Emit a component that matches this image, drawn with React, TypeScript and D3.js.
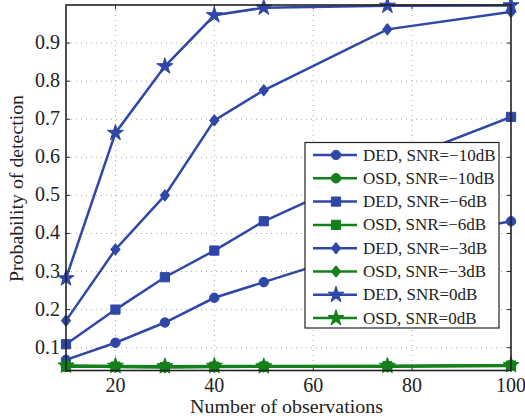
import React from 'react';
import * as d3 from 'd3';

const observations = [10, 20, 30, 40, 50, 75, 100];

const dedM10 = [0.068, 0.113, 0.166, 0.231, 0.272, 0.375, 0.432];
const osdM10 = [0.052, 0.051, 0.050, 0.051, 0.052, 0.052, 0.054];
const dedM6 = [0.109, 0.2, 0.285, 0.355, 0.432, 0.58, 0.706];
const osdM6 = [0.05, 0.05, 0.049, 0.05, 0.05, 0.051, 0.053];
const dedM3 = [0.171, 0.358, 0.5, 0.697, 0.776, 0.936, 0.982];
const osdM3 = [0.051, 0.049, 0.048, 0.049, 0.05, 0.05, 0.052];
const ded0 = [0.282, 0.664, 0.839, 0.973, 0.993, 0.998, 0.999];
const osd0 = [0.053, 0.052, 0.051, 0.052, 0.051, 0.052, 0.054];

const xTicks = [20, 40, 60, 80, 100];
const yTicks = [0.1, 0.2, 0.3, 0.4, 0.5, 0.6, 0.7, 0.8, 0.9];

const BLUE = '#2f47a6';
const GREEN = '#14801a';
const FONT = '"Liberation Serif", "Times New Roman", serif';

type Shape = 'circle' | 'square' | 'diamond' | 'star';

const series: { name: string; values: number[]; color: string; shape: Shape }[] = [
  { name: 'DED, SNR=\u221210dB', values: dedM10, color: BLUE, shape: 'circle' },
  { name: 'OSD, SNR=\u221210dB', values: osdM10, color: GREEN, shape: 'circle' },
  { name: 'DED, SNR=\u22126dB', values: dedM6, color: BLUE, shape: 'square' },
  { name: 'OSD, SNR=\u22126dB', values: osdM6, color: GREEN, shape: 'square' },
  { name: 'DED, SNR=\u22123dB', values: dedM3, color: BLUE, shape: 'diamond' },
  { name: 'OSD, SNR=\u22123dB', values: osdM3, color: GREEN, shape: 'diamond' },
  { name: 'DED, SNR=0dB', values: ded0, color: BLUE, shape: 'star' },
  { name: 'OSD, SNR=0dB', values: osd0, color: GREEN, shape: 'star' },
];

const W = 525;
const H = 419;
const left = 66;
const right = 511;
const top = 5;
const bottom = 370.5;

// matlab-like diamond, a bit wider than d3's
const diamondSym: d3.SymbolType = {
  draw(ctx, size) {
    const r = Math.sqrt(size / 2);
    ctx.moveTo(0, -r * 1.1);
    ctx.lineTo(r * 0.9, 0);
    ctx.lineTo(0, r * 1.1);
    ctx.lineTo(-r * 0.9, 0);
    ctx.closePath();
  },
};

const symbols: Record<Shape, d3.SymbolType> = {
  circle: d3.symbolCircle,
  square: d3.symbolSquare,
  diamond: diamondSym,
  star: d3.symbolStar,
};
const sizes: Record<Shape, number> = { circle: 70, square: 85, diamond: 55, star: 80 };

const Marker = ({ x, y, shape, color }: { x: number; y: number; shape: Shape; color: string }) => {
  const path = d3.symbol().type(symbols[shape]).size(sizes[shape])();
  return <path d={path || ''} transform={`translate(${x},${y})`} fill={color} stroke={color} strokeWidth={1} />;
};

export default function App() {
  const x = d3.scaleLinear().domain([10, 100]).range([left, right]);
  const y = d3.scaleLinear().domain([0.04, 1.0]).range([bottom, top]);
  const line = d3
    .line<number>()
    .x((_, i) => x(observations[i]))
    .y((d) => y(d));

  const legX = 305;
  const legY = 142.5;
  const legW = 194;
  const rowH = 23.3;

  return (
    <svg width={W} height={H} style={{ position: 'absolute', left: 0, top: 0, background: '#fff' }}>
      <rect width={W} height={H} fill="#fff" />
      {/* grid */}
      {xTicks.map((t) => (
        <line key={'gx' + t} x1={x(t)} x2={x(t)} y1={top} y2={bottom} stroke="#aaa" strokeWidth={1} strokeDasharray="1,4" />
      ))}
      {yTicks.map((t) => (
        <line key={'gy' + t} x1={left} x2={right} y1={y(t)} y2={y(t)} stroke="#aaa" strokeWidth={1} strokeDasharray="1,4" />
      ))}
      {/* ticks */}
      {xTicks.map((t) => (
        <g key={'tx' + t}>
          <line x1={x(t)} x2={x(t)} y1={bottom} y2={bottom - 4} stroke="#222" />
          <line x1={x(t)} x2={x(t)} y1={top} y2={top + 4} stroke="#222" />
          <text x={x(t)} y={391.5} textAnchor="middle" fontFamily={FONT} fontSize={20} fill="#222">
            {t}
          </text>
        </g>
      ))}
      {yTicks.map((t) => (
        <g key={'ty' + t}>
          <line x1={left} x2={left + 4} y1={y(t)} y2={y(t)} stroke="#222" />
          <line x1={right} x2={right - 4} y1={y(t)} y2={y(t)} stroke="#222" />
          <text x={60} y={y(t) + 6} textAnchor="end" fontFamily={FONT} fontSize={20} fill="#222">
            {t.toFixed(1)}
          </text>
        </g>
      ))}
      {/* series */}
      {series.map((s) => (
        <g key={s.name}>
          <path d={line(s.values) || ''} fill="none" stroke={s.color} strokeWidth={2.5} />
          {s.values.map((v, i) => (
            <Marker key={i} x={x(observations[i])} y={y(v)} shape={s.shape} color={s.color} />
          ))}
        </g>
      ))}
      {/* box */}
      <rect x={left} y={top} width={right - left} height={bottom - top} fill="none" stroke="#222" strokeWidth={1.6} />
      {/* legend */}
      <rect x={legX} y={legY} width={legW} height={185.5} fill="#fff" stroke="#222" strokeWidth={1.2} />
      {series.map((s, i) => {
        const cy = legY + 12.5 + i * rowH;
        return (
          <g key={'leg' + s.name}>
            <line x1={313} x2={357} y1={cy} y2={cy} stroke={s.color} strokeWidth={2.5} />
            <Marker x={336} y={cy} shape={s.shape} color={s.color} />
            <text x={363} y={cy + 5.5} fontFamily={FONT} fontSize={17} fill="#222">
              {s.name}
            </text>
          </g>
        );
      })}
      {/* axis titles */}
      <text
        x={286.5}
        y={413}
        textAnchor="middle"
        fontFamily={FONT}
        fontSize={19}
        fill="#222"
        textLength={193}
        lengthAdjust="spacingAndGlyphs"
      >
        Number of observations
      </text>
      <text
        transform="translate(23, 188.5) rotate(-90)"
        textAnchor="middle"
        fontFamily={FONT}
        fontSize={19}
        fill="#222"
        textLength={187}
        lengthAdjust="spacingAndGlyphs"
      >
        Probability of detection
      </text>
    </svg>
  );
}
